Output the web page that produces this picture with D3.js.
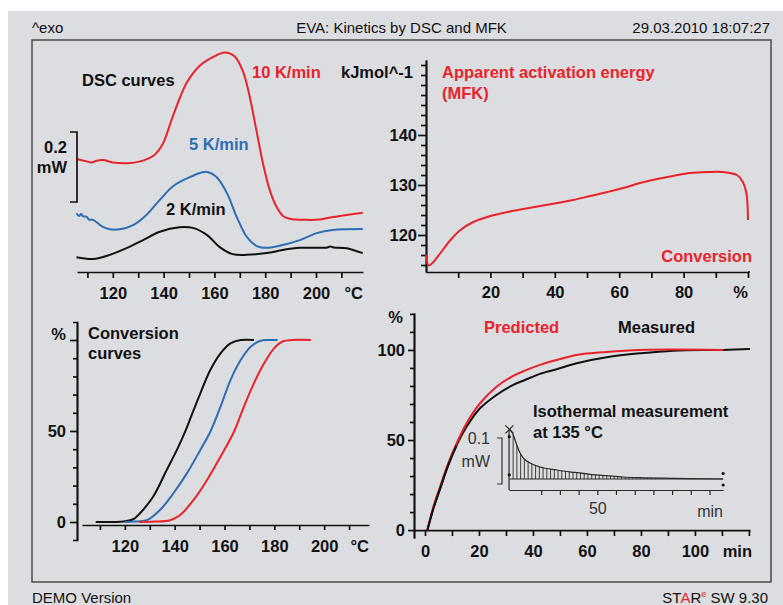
<!DOCTYPE html>
<html>
<head>
<meta charset="utf-8">
<script src="https://cdn.jsdelivr.net/npm/d3@7"></script>
<style>
  html, body { margin: 0; padding: 0; background: #fff; }
  svg { display: block; }
</style>
</head>
<body>
<div id="chart"></div>
<script>
// DSC curves, [temperature °C, heat flow mW]
const dsc10 = [[105.7,0.323],[109.7,0.316],[111.6,0.313],[113.6,0.318],[116.2,0.320],[120,0.313],[125.5,0.311],[130.8,0.316],[136,0.332],[139.6,0.365],[143.1,0.434],[146,0.49],[149.2,0.542],[154.3,0.59],[159.4,0.614],[164.1,0.627],[168.1,0.615],[171.3,0.572],[173.9,0.501],[176.5,0.406],[179.1,0.311],[181.8,0.234],[184.4,0.187],[187,0.160],[189.6,0.152],[196.4,0.149],[201.5,0.150],[206.6,0.157],[212.1,0.163],[218.4,0.169]];
const dsc5 = [[105.7,0.168],[106.7,0.160],[107.6,0.166],[108.3,0.159],[109.6,0.158],[110.6,0.150],[112.2,0.149],[116.1,0.129],[118.8,0.122],[122.7,0.122],[128,0.134],[133.2,0.163],[138.5,0.206],[143.7,0.245],[150.3,0.271],[157,0.286],[160.9,0.271],[164.9,0.226],[168.8,0.157],[172.8,0.100],[176.7,0.074],[180.6,0.069],[186.9,0.077],[193.6,0.091],[200.3,0.111],[206.6,0.120],[218.4,0.123]];
const dsc2 = [[105.7,0.042],[112.2,0.037],[118.8,0.049],[125.4,0.068],[131.9,0.091],[138.5,0.115],[146.3,0.128],[151.5,0.126],[157,0.106],[162.1,0.071],[167.2,0.051],[172.8,0.049],[180.6,0.054],[186.9,0.063],[193.6,0.069],[200.3,0.069],[204.5,0.070],[205.6,0.073],[207,0.070],[212.1,0.068],[218.4,0.054]];
const dscTicks = [110, 120, 130, 140, 150, 160, 170, 180, 190, 200, 210];
const dscLabels = [120, 140, 160, 180, 200];

// apparent activation energy (MFK), [conversion %, kJ/mol]
const mfk = [[0.1,116.1],[0.8,113.9],[2.3,114.6],[4.5,116.4],[7.6,119],[10.7,121],[14.7,122.6],[20,123.8],[25.3,124.6],[30.2,125.2],[35.5,125.8],[40.8,126.4],[45.7,127],[51,127.8],[56.3,128.6],[61.2,129.4],[66.5,130.4],[71.8,131.2],[76.7,131.8],[82,132.4],[87.3,132.6],[92.2,132.6],[96.6,132],[98.4,130.6],[99.5,128.4],[100,123]];
const mfkYTicks = [114,116,118,120,122,124,126,128,130,132,134,136,138,140,142,144,146,148,150,152,154];
const mfkYLabels = [120, 130, 140];
const mfkXTicks = [10,20,30,40,50,60,70,80,90,100];
const mfkXLabels = [20, 40, 60, 80];

// conversion curves, [temperature °C, conversion %]
const conv2 = [[108.3,0],[116,0],[119.5,0.3],[123.4,1.5],[126.1,4.8],[131.4,14],[136.8,28.6],[140.9,39.6],[144.2,49.6],[147.6,61.5],[150.3,70.7],[154.3,83.5],[158.4,92.7],[162.4,98.2],[166.5,100],[171.8,100]];
const conv5 = [[120,0],[124,0.2],[128.8,1],[134.1,6.6],[139.5,15.8],[144.9,26.7],[150.3,39.6],[154.3,49.6],[158.4,63.4],[162.4,78],[166.5,89],[170.5,96.3],[174.5,99.6],[177.5,100],[181.3,100]];
const conv10 = [[125.8,0],[132,0.2],[138.2,1],[142.2,3.8],[147.6,12.1],[153,23.1],[158.4,35.9],[163.8,49.6],[167.8,63.4],[171.8,76.2],[175.9,87.2],[179.9,95.4],[183.5,99.3],[187,100],[194.7,100]];
const convYTicks = [0,10,20,30,40,50,60,70,80,90,100];
const convYLabels = [0, 50];
const convXTicks = [110,120,130,140,150,160,170,180,190,200,210];
const convXLabels = [120, 140, 160, 180, 200];

// isothermal 135 °C, [time min, conversion %]
const isoPredicted = [[0.9,0],[3.1,12.9],[5.6,24.1],[8.6,37],[11.7,48.1],[15.4,59.3],[20.4,70.4],[26.5,79.6],[32.7,85.6],[37,88.5],[42.6,91.7],[48.8,94.4],[56.2,97.2],[67.3,98.9],[79.6,100],[110.5,100]];
const isoMeasured = [[0.9,0],[3.1,12],[5.6,23],[8.6,36],[11.7,47],[15.4,57.4],[20.4,67.6],[26.5,75],[32.7,80.6],[37,83.3],[42.6,86.7],[48.8,89.3],[56.2,92.6],[67.3,95.9],[79.6,98.1],[91.9,99.6],[110.5,100],[120.4,100.5]];
const isoYTicks = [0,10,20,30,40,50,60,70,80,90,100,110,120];
const isoYLabels = [0, 50, 100];
const isoXTicks = [0,10,20,30,40,50,60,70,80,90,100,110,120];
const isoXLabels = [0, 20, 40, 60, 80, 100];

// inset: isothermal DSC signal, [time min, mW]
const inset = [[3.0,0.108],[3.6,0.106],[5.1,0.0957],[6.9,0.0739],[8.7,0.0565],[10.4,0.0457],[14,0.0348],[19.4,0.0261],[28.3,0.0196],[37.2,0.0146],[46.1,0.0102],[55,0.0072],[63.9,0.0043],[72.8,0.0028],[90.6,0.0015],[117.3,0]];
const insetXTicks = [20,30,40,50,60,70,80,90,100,110];
const insetMarks = [[2.9,0.092],[2.9,0.009],[117.3,0.012],[117.3,-0.013]];

const RED = '#e8232b', BLUE = '#2e6db4', BLACK = '#111';
const FONT = '"Liberation Sans", Arial, Helvetica, sans-serif';
const width = 783, height = 605;
const smooth = d3.curveCatmullRom.alpha(0.5);

const svg = d3.select('#chart').append('svg')
  .attr('width', width)
  .attr('height', height)
  .attr('font-family', FONT);

svg.append('rect').attr('width', width).attr('height', height).attr('fill', '#fff');
svg.append('rect').attr('x', 8).attr('y', 11).attr('width', width - 8).attr('height', height - 11).attr('fill', '#dcdde0');
svg.append('rect').attr('x', 32).attr('y', 40).attr('width', 739).attr('height', 542)
  .attr('fill', 'none').attr('stroke', '#4a4a4a').attr('stroke-width', 1.5);

function label(x, y, txt, o = {}) {
  return svg.append('text')
    .attr('x', x).attr('y', y)
    .attr('font-size', o.size || 16.5)
    .attr('font-weight', o.weight || 'bold')
    .attr('fill', o.color || BLACK)
    .attr('text-anchor', o.anchor || 'start')
    .text(txt);
}

function styleAxis(g, o = {}) {
  // d3 puts font attributes on every axis group, drop them so ours inherit
  g.selectAll('g').attr('font-size', null).attr('font-family', null);
  g.attr('font-family', FONT)
    .attr('font-size', o.size || 16.5)
    .attr('font-weight', o.weight || 'bold');
  g.selectAll('.domain').attr('stroke', o.color || BLACK).attr('stroke-width', o.sw || 1.7);
  g.selectAll('.tick line').attr('stroke', o.color || BLACK).attr('stroke-width', o.sw || 1.7);
  g.selectAll('.tick text').attr('fill', o.textColor || BLACK);
  return g;
}

function drawLine(data, x, y, color, sw) {
  svg.append('path')
    .datum(data)
    .attr('fill', 'none')
    .attr('stroke', color)
    .attr('stroke-width', sw || 2)
    .attr('stroke-linejoin', 'round')
    .attr('d', d3.line().x(d => x(d[0])).y(d => y(d[1])).curve(smooth));
}

// header / footer
label(32, 32.5, '^exo', { size: 15, weight: 'normal' });
label(401.5, 32.5, 'EVA: Kinetics by DSC and MFK', { size: 15, weight: 'normal', anchor: 'middle' });
label(770, 32.5, '29.03.2010 18:07:27', { size: 15, weight: 'normal', anchor: 'end' });
label(32, 602.5, 'DEMO Version', { size: 15, weight: 'normal' });
const star = svg.append('text').attr('x', 768).attr('y', 602.5).attr('font-size', 15)
  .attr('text-anchor', 'end').attr('fill', BLACK);
star.append('tspan').text('ST');
star.append('tspan').attr('fill', RED).text('A');
star.append('tspan').text('R');
star.append('tspan').attr('fill', RED).attr('font-size', 9).attr('dy', -6).text('e');
star.append('tspan').attr('dy', 6).text(' SW 9.30');

// ---- DSC curves (top left)
const xDsc = d3.scaleLinear().domain([105.9, 218.5]).range([77, 363]);
const yDsc = d3.scaleLinear().domain([0, 0.6]).range([272, 62]);

styleAxis(svg.append('g')
  .attr('transform', 'translate(0,272)')
  .call(d3.axisBottom(xDsc).tickValues(dscTicks).tickSize(6).tickSizeOuter(0).tickPadding(9)
    .tickFormat(d => dscLabels.includes(d) ? d : '')));
label(363, 299, '°C', { anchor: 'end' });

drawLine(dsc2, xDsc, yDsc, BLACK);
drawLine(dsc5, xDsc, yDsc, BLUE);
drawLine(dsc10, xDsc, yDsc, RED);

// 0.2 mW scale bar
const barBottom = 202, barH = yDsc(0) - yDsc(0.2);
svg.append('path')
  .attr('d', `M70,${barBottom - barH}H77V${barBottom}H70`)
  .attr('fill', 'none').attr('stroke', BLACK).attr('stroke-width', 1.7);
label(67, 153, '0.2', { anchor: 'end' });
label(67, 173, 'mW', { anchor: 'end' });

label(82, 85.5, 'DSC curves');
label(252, 78, '10 K/min', { color: RED });
label(189, 150, '5 K/min', { color: BLUE });
label(166, 215, '2 K/min');

// ---- MFK activation energy (top right)
const xMfk = d3.scaleLinear().domain([0, 100]).range([426, 748]);
const yMfk = d3.scaleLinear().domain([112.6, 155]).range([272, 60]);

const gMfkY = svg.append('g').attr('transform', 'translate(426,0)');
gMfkY.append('g').call(d3.axisLeft(yMfk).tickValues(mfkYTicks.filter(d => !mfkYLabels.includes(d)))
  .tickSize(5).tickSizeOuter(0).tickFormat(''));
gMfkY.append('g').call(d3.axisLeft(yMfk).tickValues(mfkYLabels).tickSize(8).tickSizeOuter(0).tickPadding(1));
styleAxis(gMfkY);

styleAxis(svg.append('g')
  .attr('transform', 'translate(0,272)')
  .call(d3.axisBottom(xMfk).tickValues(mfkXTicks).tickSize(6).tickSizeOuter(0).tickPadding(8)
    .tickFormat(d => mfkXLabels.includes(d) ? d : '')));
svg.append('line').attr('x1', xMfk(100)).attr('x2', 750).attr('y1', 272).attr('y2', 272)
  .attr('stroke', BLACK).attr('stroke-width', 1.7);
label(748, 298, '%', { anchor: 'end' });

drawLine(mfk, xMfk, yMfk, RED);

label(413, 77.5, 'kJmol^-1', { anchor: 'end' });
label(442, 78, 'Apparent activation energy', { color: RED });
label(442, 99, '(MFK)', { color: RED });
label(752, 262, 'Conversion', { color: RED, anchor: 'end' });

// ---- Conversion curves (bottom left)
const xConv = d3.scaleLinear().domain([102.8, 218]).range([82, 369]);
const yConv = d3.scaleLinear().domain([-9.9, 109.9]).range([540, 322]);

const gConvY = svg.append('g').attr('transform', 'translate(77,0)');
gConvY.append('g').call(d3.axisLeft(yConv).tickValues(convYTicks.filter(d => d % 50 !== 0))
  .tickSize(4).tickSizeOuter(4).tickFormat(''));
gConvY.append('g').call(d3.axisLeft(yConv).tickValues([0, 50, 100]).tickSize(7).tickSizeOuter(0).tickPadding(4)
  .tickFormat(d => convYLabels.includes(d) ? d : ''));
styleAxis(gConvY);
label(66, 339.5, '%', { anchor: 'end' });

styleAxis(svg.append('g')
  .attr('transform', 'translate(0,525)')
  .call(d3.axisBottom(xConv).tickValues(convXTicks).tickSize(5).tickSizeOuter(0).tickPadding(10)
    .tickFormat(d => convXLabels.includes(d) ? d : '')));
label(369, 552, '°C', { anchor: 'end' });

drawLine(conv2, xConv, yConv, BLACK);
drawLine(conv5, xConv, yConv, BLUE);
drawLine(conv10, xConv, yConv, RED);

label(88, 339, 'Conversion');
label(88, 359, 'curves');

// ---- Isothermal prediction (bottom right)
const xIso = d3.scaleLinear().domain([-4.07, 120.4]).range([414, 750]);
const yIso = d3.scaleLinear().domain([-4.4, 120.5]).range([538, 313]);

const gIsoY = svg.append('g').attr('transform', 'translate(414,0)');
gIsoY.append('g').call(d3.axisLeft(yIso).tickValues(isoYTicks.filter(d => !isoYLabels.includes(d)))
  .tickSize(4).tickSizeOuter(0).tickFormat(''));
gIsoY.append('g').call(d3.axisLeft(yIso).tickValues(isoYLabels).tickSize(6).tickSizeOuter(0).tickPadding(3));
styleAxis(gIsoY);
label(403, 323, '%', { anchor: 'end' });

styleAxis(svg.append('g')
  .attr('transform', `translate(0,${yIso(0)})`)
  .call(d3.axisBottom(xIso).tickValues(isoXTicks).tickSize(6).tickSizeOuter(0).tickPadding(9)
    .tickFormat(d => isoXLabels.includes(d) ? d : '')));
label(752, 557, 'min', { anchor: 'end' });

drawLine(isoMeasured, xIso, yIso, BLACK);
drawLine(isoPredicted, xIso, yIso, RED);
drawLine(isoMeasured.filter(d => d[0] < 14), xIso, yIso, BLACK);

label(484, 333, 'Predicted', { color: RED });
label(618, 333, 'Measured');
label(533, 417, 'Isothermal measurement');
label(533, 438, 'at 135 °C');

// ---- inset: isothermal DSC curve
const xIns = d3.scaleLinear().domain([0, 120]).range([503.8, 728.2]);
const yIns = d3.scaleLinear().domain([0, 0.1]).range([479, 433]);
const insetCurve = d3.scaleLinear().domain(inset.map(d => d[0])).range(inset.map(d => d[1]));
const INK = '#2a2a2a';

// hatching between curve and baseline
const hatch = d3.range(5, 101, 2);
svg.append('g').selectAll('line').data(hatch).join('line')
  .attr('x1', d => xIns(d)).attr('x2', d => xIns(d))
  .attr('y1', yIns(0)).attr('y2', d => yIns(insetCurve(d)))
  .attr('stroke', INK).attr('stroke-width', 0.9);

// baseline and inset axes
const t0 = 2.8, t1 = 117.3;
svg.append('line').attr('x1', xIns(t0)).attr('x2', xIns(t1)).attr('y1', yIns(0)).attr('y2', yIns(0))
  .attr('stroke', INK).attr('stroke-width', 1.2);
svg.append('line').attr('x1', xIns(t0)).attr('x2', xIns(t0)).attr('y1', 430).attr('y2', 490)
  .attr('stroke', INK).attr('stroke-width', 1.2);
const xInsAxis = d3.scaleLinear().domain([t0, t1]).range([xIns(t0), xIns(t1)]);
styleAxis(svg.append('g')
  .attr('transform', 'translate(0,490)')
  .call(d3.axisBottom(xInsAxis).tickValues(insetXTicks).tickSize(5).tickSizeOuter(0).tickPadding(8)
    .tickFormat(d => d === 50 ? d : '')),
  { size: 16, weight: 'normal', color: INK, textColor: '#333', sw: 1.2 });
label(723, 516.5, 'min', { size: 16, weight: 'normal', color: '#333', anchor: 'end' });

svg.append('path')
  .datum(inset)
  .attr('fill', 'none').attr('stroke', INK).attr('stroke-width', 1.2)
  .attr('d', d3.line().x(d => xIns(d[0])).y(d => yIns(d[1])).curve(d3.curveMonotoneX));

// peak marker
const pk = inset[0];
svg.append('path')
  .attr('d', `M${xIns(pk[0]) - 4},${yIns(pk[1]) - 4}l8,8m0,-8l-8,8`)
  .attr('stroke', INK).attr('stroke-width', 1.2);
svg.append('g').selectAll('circle').data(insetMarks).join('circle')
  .attr('cx', d => xIns(d[0])).attr('cy', d => yIns(d[1])).attr('r', 1.6).attr('fill', BLACK);

// 0.1 mW scale bar
const ibH = yIns(0) - yIns(0.1);
svg.append('path')
  .attr('d', `M497,${484 - ibH}H502V484H497`)
  .attr('fill', 'none').attr('stroke', '#333').attr('stroke-width', 1.2);
label(490, 444, '0.1', { size: 16, weight: 'normal', color: '#333', anchor: 'end' });
label(490, 466.5, 'mW', { size: 16, weight: 'normal', color: '#333', anchor: 'end' });
</script>
</body>
</html>
